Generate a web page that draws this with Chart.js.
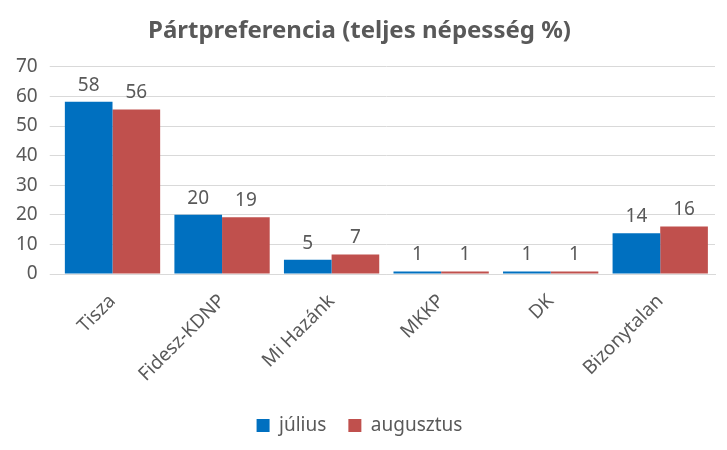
<!DOCTYPE html>
<html>
<head>
<meta charset="utf-8">
<script src="https://cdn.jsdelivr.net/npm/chart.js@4"></script>
<style>
  html, body { margin: 0; padding: 0; background: #fff; }
  #wrap { width: 727px; height: 450px; }
</style>
</head>
<body>
<div id="wrap"><canvas id="myChart"></canvas></div>
<script>
// chart data
const parties = ['Tisza', 'Fidesz-KDNP', 'Mi Hazánk', 'MKKP', 'DK', 'Bizonytalan'];
const july = [58.2, 20, 4.8, 0.9, 0.9, 13.8];
const august = [55.6, 19.2, 6.6, 0.9, 0.9, 16.1];
const yTicks = [0, 10, 20, 30, 40, 50, 60, 70];

const textColor = '#595959';
const fontFamily = '"Noto Sans", "Open Sans", sans-serif';

// draws rounded value above every bar
const valueLabels = {
    id: 'valueLabels',
    afterDatasetsDraw(chart) {
        const ctx = chart.ctx;
        ctx.save();
        ctx.font = '19px ' + fontFamily;
        ctx.fillStyle = textColor;
        ctx.textAlign = 'center';
        ctx.textBaseline = 'bottom';
        chart.data.datasets.forEach((ds, i) => {
            chart.getDatasetMeta(i).data.forEach((bar, j) => {
                ctx.fillText(Math.round(ds.data[j]), bar.x, bar.y - 7);
            });
        });
        ctx.restore();
    }
};

const ctx = document.getElementById('myChart').getContext('2d');
new Chart(ctx, {
    type: 'bar',
    data: {
        labels: parties,
        datasets: [
            {
                label: 'július',
                data: july,
                backgroundColor: '#0070c0',
                categoryPercentage: 0.87,
                barPercentage: 1
            },
            {
                label: 'augusztus',
                data: august,
                backgroundColor: '#c0504d',
                categoryPercentage: 0.87,
                barPercentage: 1
            }
        ]
    },
    options: {
        responsive: true,
        maintainAspectRatio: false,
        animation: false,
        layout: { padding: { left: 4, right: 12, top: 13, bottom: 5 } },
        plugins: {
            title: {
                display: true,
                text: 'Pártpreferencia (teljes népesség %)',
                color: textColor,
                font: { family: fontFamily, size: 24, weight: 'bold' },
                padding: { top: 4, bottom: 21 }
            },
            legend: {
                position: 'bottom',
                labels: {
                    color: textColor,
                    font: { family: fontFamily, size: 19 },
                    boxWidth: 13,
                    boxHeight: 13,
                    padding: 22
                }
            },
            tooltip: { enabled: false }
        },
        scales: {
            x: {
                grid: { display: false },
                border: { color: '#d9d9d9' },
                ticks: {
                    color: textColor,
                    font: { family: fontFamily, size: 19 },
                    minRotation: 45,
                    maxRotation: 45,
                    padding: 8
                }
            },
            y: {
                min: yTicks[0],
                max: yTicks[yTicks.length - 1],
                grid: { color: '#d9d9d9' },
                border: { display: false },
                afterBuildTicks: axis => {
                    axis.ticks = yTicks.map(v => ({ value: v }));
                },
                ticks: {
                    color: textColor,
                    font: { family: fontFamily, size: 19 },
                    padding: 12
                }
            }
        }
    },
    plugins: [valueLabels]
});
</script>
</body>
</html>
